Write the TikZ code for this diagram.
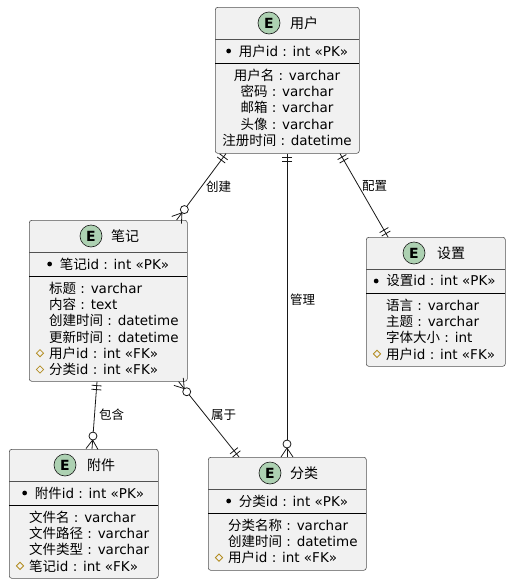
\documentclass[tikz,border=0pt]{standalone}
\usepackage{fontspec}
\setmainfont{DejaVu Sans}
\newfontfamily\cjk{Noto Sans CJK SC}
\usetikzlibrary{calc}
\definecolor{boxfill}{HTML}{F1F1F1}
\definecolor{boxline}{HTML}{181818}
\definecolor{egreen}{HTML}{ADD1B2}
\definecolor{fkgold}{HTML}{B38D22}
\newcommand\C[1]{{\cjk #1}}
\tikzset{
  ebox/.style={draw=boxline!75, fill=boxfill, rounded corners=2.5pt, line width=0.6pt, inner sep=0, anchor=north west},
  ecirc/.style={circle, draw=boxline, fill=egreen, minimum size=22pt, inner sep=0, line width=0.6pt, font=\fontsize{14}{14}\selectfont\bfseries},
  etitle/.style={anchor=west, inner sep=0, font=\fontsize{14}{16}\selectfont},
  attr/.style={anchor=west, inner sep=0, font=\fontsize{13.5}{16}\selectfont},
  cattr/.style={anchor=center, inner sep=0, font=\fontsize{13.5}{16}\selectfont},
  lbl/.style={anchor=west, inner sep=0, font=\fontsize{12.5}{14}\selectfont},
  hdiv/.style={draw=boxline!75, line width=0.6pt},
  pdiv/.style={draw=black, line width=0.85pt},
  conn/.style={draw=boxline, line width=0.8pt},
  fkmark/.style={draw=fkgold, line width=0.8pt},
}
\newcommand\barsend[2]{%
  \coordinate (t1) at ($(#1)!4pt!(#2)$);
  \coordinate (t2) at ($(#1)!8pt!(#2)$);
  \draw[conn] ($(t1)!5pt!90:(#2)$) -- ($(t1)!5pt!-90:(#2)$);
  \draw[conn] ($(t2)!5pt!90:(#2)$) -- ($(t2)!5pt!-90:(#2)$);
}
\newcommand\crowend[2]{%
  \coordinate (t3) at ($(#1)!9pt!(#2)$);
  \draw[conn] ($(#1)!6pt!90:(#2)$) -- (t3) -- ($(#1)!6pt!-90:(#2)$);
  \draw[conn,fill=white] ($(#1)!13pt!(#2)$) circle (4pt);
}
\newcommand\bul[1]{\fill ($(#1.west)+(-10,0)$) circle (2.4pt);}
\newcommand\fk[1]{\draw[fkmark] ($(#1.west)+(-9,0)$) +(-3.6,0) -- +(0,-3.6) -- +(3.6,0) -- +(0,3.6) -- cycle;}
\begin{document}
\begin{tikzpicture}[x=1pt,y=-1pt]
\useasboundingbox (0,0) rectangle (509,584);

% ---------- 用户 ----------
\node[ebox, minimum width=144pt, minimum height=146pt] (user) at (215,7) {};
\draw[hdiv] (215,39) -- (359,39);
\draw[pdiv] (215,63) -- (359,63);
\node[ecirc] (userE) at (269,23) {E};
\node[etitle] (userT) at (290,23) {\C{用户}};
\node[cattr] (userPK) at (293.5,51) {\C{用户}id : int «PK»};
\bul{userPK}
\node[cattr] (userA1) at (287,75) {\C{用户名} : varchar};
\node[cattr] (userA2) at (287,91.3) {\C{密码} : varchar};
\node[cattr] (userA3) at (287,107.6) {\C{邮箱} : varchar};
\node[cattr] (userA4) at (287,123.9) {\C{头像} : varchar};
\node[cattr] (userA5) at (287,140.2) {\C{注册时间} : datetime};

% ---------- 笔记 ----------
\node[ebox, minimum width=158pt, minimum height=161pt] (note) at (29,220) {};
\draw[hdiv] (29,252) -- (187,252);
\draw[pdiv] (29,276) -- (187,276);
\node[ecirc] (noteE) at (91,236) {E};
\node[etitle] (noteT) at (111,236) {\C{笔记}};
\node[cattr] (notePK) at (114.5,264) {\C{笔记}id : int «PK»};
\bul{notePK}
\node[attr] (noteA1) at (49,288) {\C{标题} : varchar};
\node[attr] (noteA2) at (49,304.3) {\C{内容} : text};
\node[attr] (noteA3) at (49,320.6) {\C{创建时间} : datetime};
\node[attr] (noteA4) at (49,336.9) {\C{更新时间} : datetime};
\node[attr] (noteA5) at (49,353.2) {\C{用户}id : int «FK»};
\fk{noteA5}
\node[attr] (noteA6) at (49,369.5) {\C{分类}id : int «FK»};
\fk{noteA6}

% ---------- 设置 ----------
\node[ebox, minimum width=139pt, minimum height=129pt] (set) at (366,237) {};
\draw[hdiv] (366,269) -- (505,269);
\draw[pdiv] (366,293) -- (505,293);
\node[ecirc] (setE) at (414,253) {E};
\node[etitle] (setT) at (437,253) {\C{设置}};
\node[cattr] (setPK) at (441,281) {\C{设置}id : int «PK»};
\bul{setPK}
\node[attr] (setA1) at (386,305) {\C{语言} : varchar};
\node[attr] (setA2) at (386,321.3) {\C{主题} : varchar};
\node[attr] (setA3) at (386,337.6) {\C{字体大小} : int};
\node[attr] (setA4) at (386,353.9) {\C{用户}id : int «FK»};
\fk{setA4}

% ---------- 附件 ----------
\node[ebox, minimum width=149pt, minimum height=129pt] (att) at (9,449) {};
\draw[hdiv] (9,481) -- (158,481);
\draw[pdiv] (9,505) -- (158,505);
\node[ecirc] (attE) at (65,465) {E};
\node[etitle] (attT) at (87,465) {\C{附件}};
\node[cattr] (attPK) at (89.5,493) {\C{附件}id : int «PK»};
\bul{attPK}
\node[attr] (attA1) at (29,517) {\C{文件名} : varchar};
\node[attr] (attA2) at (29,533.3) {\C{文件路径} : varchar};
\node[attr] (attA3) at (29,549.6) {\C{文件类型} : varchar};
\node[attr] (attA4) at (29,565.9) {\C{笔记}id : int «FK»};
\fk{attA4}

% ---------- 分类 ----------
\node[ebox, minimum width=158pt, minimum height=113pt] (cat) at (208,457) {};
\draw[hdiv] (208,489) -- (366,489);
\draw[pdiv] (208,513) -- (366,513);
\node[ecirc] (catE) at (270,473) {E};
\node[etitle] (catT) at (290,473) {\C{分类}};
\node[cattr] (catPK) at (293.5,501) {\C{分类}id : int «PK»};
\bul{catPK}
\node[attr] (catA1) at (228,525) {\C{分类名称} : varchar};
\node[attr] (catA2) at (228,541.3) {\C{创建时间} : datetime};
\node[attr] (catA3) at (228,557.6) {\C{用户}id : int «FK»};
\fk{catA3}

% ---------- connectors ----------
% 创建
\coordinate (c1a) at ($(user.south west)+(11,0)$);
\coordinate (c1b) at ($(note.north east)+(-11,0)$);
\draw[conn] (c1a) -- (c1b);
\barsend{c1a}{c1b}
\crowend{c1b}{c1a}
\node[lbl] (l1) at (206,187) {\C{创建}};
% 管理
\coordinate (c2a) at ($(user.south west)+(72,0)$);
\coordinate (c2b) at ($(cat.north west)+(79,0)$);
\draw[conn] (c2a) -- (c2b);
\barsend{c2a}{c2b}
\crowend{c2b}{c2a}
\node[lbl] (l2) at (290,300) {\C{管理}};
% 配置
\coordinate (c3a) at ($(user.south west)+(125,0)$);
\coordinate (c3b) at ($(set.north west)+(22,0)$);
\draw[conn] (c3a) -- (c3b);
\barsend{c3a}{c3b}
\barsend{c3b}{c3a}
\node[lbl] (l3) at (362,186) {\C{配置}};
% 包含
\coordinate (c4a) at ($(note.south west)+(68,0)$);
\coordinate (c4b) at ($(att.north west)+(83,0)$);
\draw[conn] (c4a) -- (c4b);
\barsend{c4a}{c4b}
\crowend{c4b}{c4a}
\node[lbl] (l4) at (99,415) {\C{包含}};
% 属于
\coordinate (c5a) at ($(note.south east)+(-9,0)$);
\coordinate (c5b) at ($(cat.north west)+(31,0)$);
\draw[conn] (c5a) -- (c5b);
\crowend{c5a}{c5b}
\barsend{c5b}{c5a}
\node[lbl] (l5) at (211,415) {\C{属于}};
\end{tikzpicture}
\end{document}
